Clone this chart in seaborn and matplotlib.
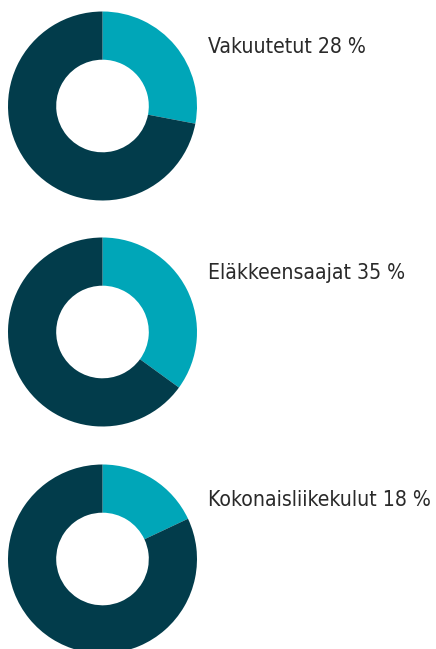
"""
Donut charts: share of each group
"""

import matplotlib
matplotlib.use("Agg")
import matplotlib.pyplot as plt
import seaborn as sns

labels = ["Vakuutetut", "Eläkkeensaajat", "Kokonaisliikekulut"]
shares = [28, 35, 18]

# donut centres in pixels from the top-left corner
centres_y = [106, 332, 559]

sns.set_theme(style="white")
plt.rcParams['font.family'] = ['DejaVu Sans']

teal = "#00a6b8"
dark = "#023c4b"

W, H = 436, 649
fig = plt.figure(figsize=(W / 100, H / 100), dpi=100)

cx, r = 102.5, 94.5
for label, share, cy in zip(labels, shares, centres_y):
    ax = fig.add_axes([(cx - r) / W, (H - cy - r) / H, 2 * r / W, 2 * r / H])
    ax.pie(
        [share, 100 - share],
        colors=[teal, dark],
        startangle=90,
        counterclock=False,
        radius=1,
        wedgeprops=dict(width=0.51, linewidth=0),
    )
    ax.set_xlim(-1, 1)
    ax.set_ylim(-1, 1)
    ax.set_aspect("equal")
    ax.axis("off")

    fig.text(208 / W, 1 - (cy - 59) / H, f"{label} {share} %",
             fontsize=15.2, fontstretch="condensed", color="#2a2a2a",
             ha="left", va="center")

plt.savefig("out.png", dpi=100)
plt.close()
